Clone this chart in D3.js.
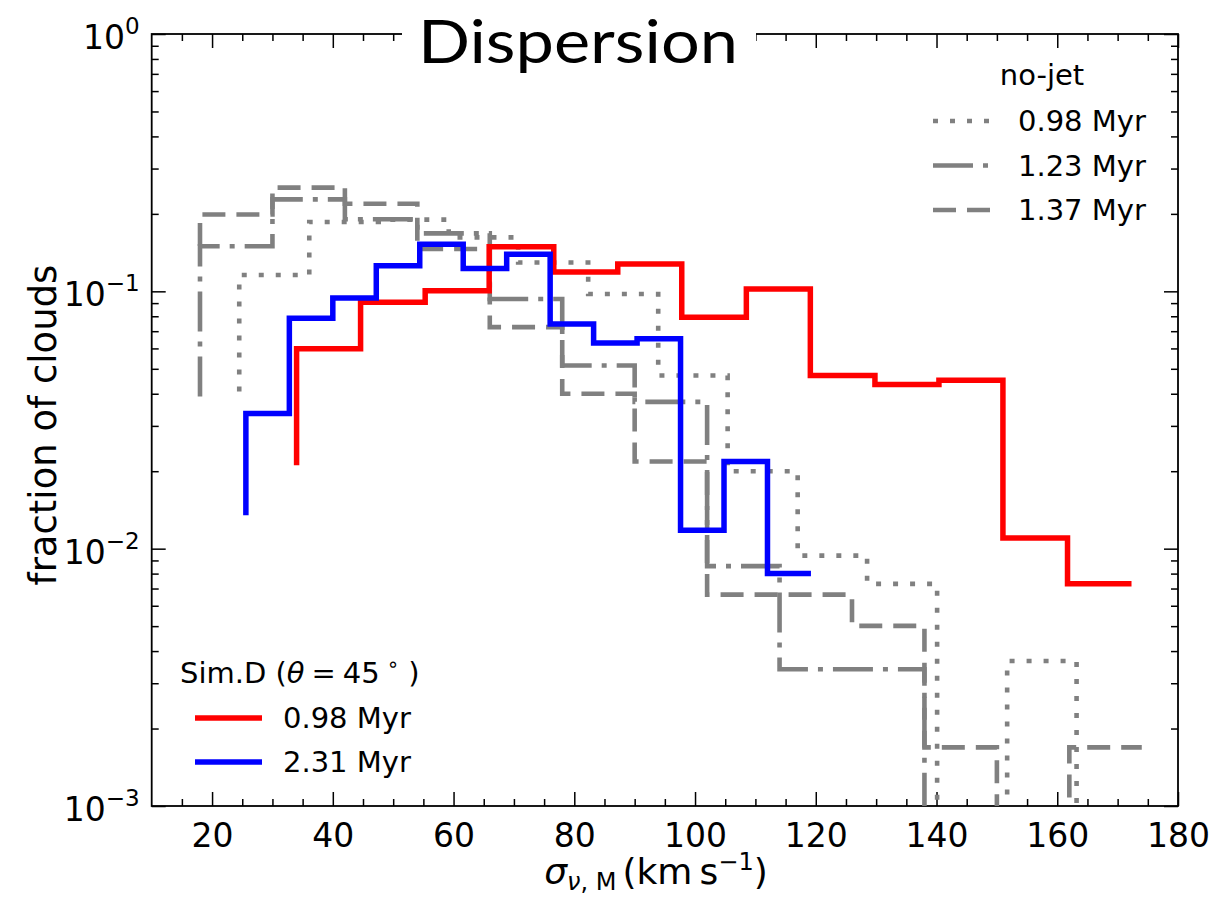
<!DOCTYPE html>
<html>
<head>
<meta charset="utf-8">
<script src="https://cdnjs.cloudflare.com/ajax/libs/d3/7.8.5/d3.min.js"></script>
<style>
    body { margin: 0; background: #fff; }
    text { font-family: "DejaVu Sans", sans-serif; fill: #000; }
</style>
</head>
<body>
<svg id="chart" width="1217" height="900"></svg>
<script>
'use strict';

/**
 * Histogram data: bin edges (km/s) and fractions.
 * First value of each list is the left tail of the step line,
 * the rest are the bins between consecutive edges.
 */
const redEdges = [34.0, 44.6, 55.3, 65.9, 76.6, 87.2, 97.8, 108.5, 119.1, 129.8, 140.4, 151.0, 161.7, 172.3];
const redVals = [0.0211, 0.0598, 0.0907, 0.1005, 0.149, 0.119, 0.1276, 0.0793, 0.102, 0.0471, 0.0434, 0.0451, 0.0110, 0.0073];

const blueEdges = [25.6, 32.8, 40.0, 47.2, 54.4, 61.6, 68.8, 76.0, 83.2, 90.4, 97.6, 104.8, 112.0, 119.2];
const blueVals = [0.0135, 0.0335, 0.0786, 0.0942, 0.1257, 0.1525, 0.1227, 0.1394, 0.0747, 0.0630, 0.0654, 0.0118, 0.0218, 0.0080];

const dotEdges = [24.5, 36.1, 47.6, 59.2, 70.7, 82.3, 93.9, 105.4, 117.0, 128.5, 140.1, 151.7, 163.2, 174.8];
const dotVals = [0.0408, 0.1157, 0.186, 0.190, 0.162, 0.1295, 0.0976, 0.0471, 0.0200, 0.0094, 0.0073, 0, 0.00366, 0];

const dashDotEdges = [18, 30, 42, 54, 66, 78, 90, 102, 114, 126, 138, 150, 162, 174];
const dashDotVals = [0.039, 0.1497, 0.2277, 0.1905, 0.168, 0.0934, 0.0515, 0.0372, 0.00855, 0.0034, 0.0034, 0, 0, 0];

const dashEdges = [18, 30, 42, 54, 66, 78, 90, 102, 114, 126, 138, 150, 162, 174];
const dashVals = [0.15, 0.199, 0.253, 0.219, 0.146, 0.0726, 0.040, 0.0218, 0.00663, 0.00663, 0.00501, 0.00169, 0, 0.00169];

const xMajorTicks = [20, 40, 60, 80, 100, 120, 140, 160, 180];
const yMajorExps = [0, -1, -2, -3];

const jetLabels = ['0.98 Myr', '2.31 Myr'];
const noJetLabels = ['0.98 Myr', '1.23 Myr', '1.37 Myr'];

let svg = d3.select('#chart');
const pLeft = 151.7, pRight = 1178, pTop = 34, pBottom = 806;

let x = d3.scaleLinear().domain([10, 180]).range([pLeft, pRight]);
let y = d3.scaleLog().domain([1e-3, 1]).range([pBottom, pTop]);

const xMinor = d3.range(15, 180, 5).filter(v => v % 20 !== 0);
let yMinor = [];
yMajorExps.slice(0, 3).forEach(e => {
    for (let k = 2; k <= 9; k++) { yMinor.push(k * Math.pow(10, e - 1)); }
});
const yMajor = yMajorExps.map(e => Math.pow(10, e));

/**
 * Ticks on all four sides, pointing inward
 */
const axisStyle = g => {
    g.select('.domain').remove();
    g.selectAll('line').attr('stroke', '#000').attr('stroke-width', 1.5);
};
svg.append('g').attr('transform', `translate(0,${pBottom})`)
    .call(d3.axisBottom(x).tickValues(xMinor).tickSize(-7).tickFormat(''))
    .call(axisStyle);
svg.append('g').attr('transform', `translate(0,${pTop})`)
    .call(d3.axisTop(x).tickValues(xMinor).tickSize(-7).tickFormat(''))
    .call(axisStyle);
svg.append('g').attr('transform', `translate(0,${pTop})`)
    .call(d3.axisTop(x).tickValues(xMajorTicks).tickSize(-14).tickFormat(''))
    .call(axisStyle);
let xAxis = svg.append('g').attr('transform', `translate(0,${pBottom})`)
    .call(d3.axisBottom(x).tickValues(xMajorTicks).tickSize(-14).tickPadding(18).tickFormat(d3.format('d')))
    .call(axisStyle);
xAxis.selectAll('text')
    .style('font-family', '"DejaVu Sans", sans-serif')
    .style('font-size', '33px')
    .attr('fill', '#000');

svg.append('g').attr('transform', `translate(${pLeft},0)`)
    .call(d3.axisLeft(y).tickValues(yMinor).tickSize(-7).tickFormat(''))
    .call(axisStyle);
svg.append('g').attr('transform', `translate(${pLeft},0)`)
    .call(d3.axisLeft(y).tickValues(yMajor).tickSize(-14).tickFormat(''))
    .call(axisStyle);
svg.append('g').attr('transform', `translate(${pRight},0)`)
    .call(d3.axisRight(y).tickValues(yMinor).tickSize(-7).tickFormat(''))
    .call(axisStyle);
svg.append('g').attr('transform', `translate(${pRight},0)`)
    .call(d3.axisRight(y).tickValues(yMajor).tickSize(-14).tickFormat(''))
    .call(axisStyle);

// y tick labels 10^n
let yLab = svg.append('g').selectAll('text')
    .data(yMajorExps)
    .enter().append('text')
    .attr('x', pLeft - 12)
    .attr('y', d => y(Math.pow(10, d)) + 15)
    .attr('text-anchor', 'end')
    .style('font-size', '33px');
yLab.append('tspan').text('10');
yLab.append('tspan')
    .attr('dy', -15)
    .style('font-size', '23px')
    .text(d => d === 0 ? '0' : '\u2212' + Math.abs(d));

/**
 * Frame
 */
svg.append('rect')
    .attr('x', pLeft).attr('y', pTop)
    .attr('width', pRight - pLeft).attr('height', pBottom - pTop)
    .attr('fill', 'none')
    .attr('stroke', '#000')
    .attr('stroke-width', 1.8);

/**
 * Step lines
 */
svg.append('defs').append('clipPath').attr('id', 'plotClip')
    .append('rect')
    .attr('x', pLeft).attr('y', pTop)
    .attr('width', pRight - pLeft).attr('height', pBottom - pTop);

let line = d3.line()
    .x(d => x(d[0]))
    .y(d => y(Math.max(d[1], 1e-5)))
    .curve(d3.curveStepBefore);

const series = [
    { edges: dotEdges, vals: dotVals, color: 'gray', width: 4.6, dash: '5 12' },
    { edges: dashDotEdges, vals: dashDotVals, color: 'gray', width: 4.6, dash: '40 10 5 10' },
    { edges: dashEdges, vals: dashVals, color: 'gray', width: 4.6, dash: '23 11' },
    { edges: redEdges, vals: redVals, color: 'red', width: 5.5, dash: null },
    { edges: blueEdges, vals: blueVals, color: 'blue', width: 5.5, dash: null }
];

let plotArea = svg.append('g').attr('clip-path', 'url(#plotClip)');
series.forEach(s => {
    plotArea.append('path')
        .datum(d3.zip(s.edges, s.vals))
        .attr('d', line)
        .attr('fill', 'none')
        .attr('stroke', s.color)
        .attr('stroke-width', s.width)
        .attr('stroke-dasharray', s.dash)
        .attr('stroke-linejoin', 'miter');
});

/**
 * Title box over the top axis
 */
svg.append('rect')
    .attr('x', 402).attr('y', 4)
    .attr('width', 354).attr('height', 74)
    .attr('fill', '#fff');
svg.append('text')
    .attr('x', 578).attr('y', 63)
    .attr('text-anchor', 'middle')
    .style('font-family', 'Lato, "Open Sans", sans-serif')
    .style('font-size', '60px')
    .attr('textLength', 320)
    .attr('lengthAdjust', 'spacingAndGlyphs')
    .text('Dispersion');

/**
 * Axis labels
 */
svg.append('text')
    .attr('transform', 'translate(56,425) rotate(-90)')
    .attr('text-anchor', 'middle')
    .style('font-size', '37px')
    .text('fraction of clouds');

let xLabel = svg.append('text')
    .attr('x', 656).attr('y', 884)
    .attr('text-anchor', 'middle')
    .style('font-size', '36px');
xLabel.append('tspan').style('font-style', 'italic').text('\u03c3');
xLabel.append('tspan').attr('dy', 6).style('font-size', '24px').style('font-style', 'italic').text('\u03bd');
xLabel.append('tspan').style('font-size', '24px').text(', M');
xLabel.append('tspan').attr('dy', -6).attr('dx', 6).text('(km\u2009s');
xLabel.append('tspan').attr('dy', -14).style('font-size', '24px').text('\u22121');
xLabel.append('tspan').attr('dy', 14).text(')');

/**
 * Legend: no-jet (upper right)
 */
let noJet = svg.append('g');
noJet.append('text')
    .attr('x', 1042).attr('y', 85)
    .attr('text-anchor', 'middle')
    .style('font-size', '29px')
    .text('no-jet');
noJetLabels.forEach((label, i) => {
    const s = series[i];
    const ly = 121 + i * 44.5;
    noJet.append('line')
        .attr('x1', 933).attr('x2', 992)
        .attr('y1', ly).attr('y2', ly)
        .attr('stroke', s.color)
        .attr('stroke-width', s.width)
        .attr('stroke-dasharray', s.dash);
    noJet.append('text')
        .attr('x', 1018).attr('y', ly + 10)
        .style('font-size', '29px')
        .text(label);
});

/**
 * Legend: Sim.D (lower left)
 */
let simD = svg.append('g');
let simTitle = simD.append('text')
    .attr('x', 180).attr('y', 683)
    .style('font-size', '29px');
simTitle.append('tspan').text('Sim.D (');
simTitle.append('tspan').style('font-style', 'italic').text('\u03b8');
simTitle.append('tspan').attr('dx', 7).text('=');
simTitle.append('tspan').attr('dx', 7).text('45');
simTitle.append('tspan').attr('dx', 7).attr('dy', -12).style('font-size', '20px').text('\u2218');
simTitle.append('tspan').attr('dx', 9).attr('dy', 12).text(')');
jetLabels.forEach((label, i) => {
    const s = series[3 + i];
    const ly = 718 + i * 44;
    simD.append('line')
        .attr('x1', 195).attr('x2', 262)
        .attr('y1', ly).attr('y2', ly)
        .attr('stroke', s.color)
        .attr('stroke-width', s.width);
    simD.append('text')
        .attr('x', 283).attr('y', ly + 10)
        .style('font-size', '29px')
        .text(label);
});
</script>
</body>
</html>
